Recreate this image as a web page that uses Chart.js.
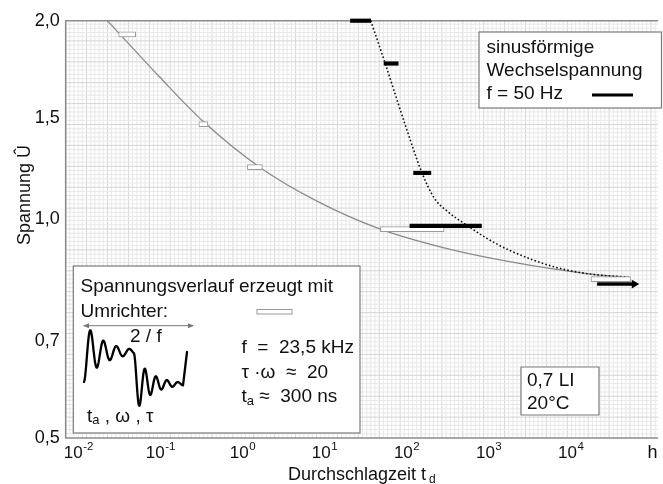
<!DOCTYPE html>
<html lang="de">
<head>
<meta charset="utf-8">
<title>Durchschlagzeit bei Umrichter- und Sinusspannung</title>
<script src="https://cdn.jsdelivr.net/npm/chart.js@4/dist/chart.umd.min.js"></script>
<style>
  html, body { margin: 0; padding: 0; background: #fff; }
  #wrap { position: relative; width: 663px; height: 484px; }
</style>
</head>
<body>
<div id="wrap"><canvas id="c" width="663" height="484"></canvas></div>
<script>
// ---- Messwerte ----------------------------------------------------------
// Umrichterspannung (23,5 kHz): Streubereich der Durchschlagzeit t_d in h
const UMR_U     = [1.93, 1.47, 1.257, 0.975, 0.852];
const UMR_T_VON = [0.031, 0.295, 1.15, 48, 17700];
const UMR_T_BIS = [0.050, 0.379, 1.75, 287, 53700];

// Sinusförmige Wechselspannung 50 Hz
const SIN_U     = [2.0, 1.78, 1.228, 0.983];
const SIN_T_VON = [20.7, 53.2, 122, 110];
const SIN_T_BIS = [36.6, 79.1, 198, 819];

// 50 Hz Langzeitprüfung ohne Durchschlag (Pfeil)
const SIN_PFEIL_U = 0.84;
const SIN_PFEIL_T = [21000, 59600];

// Lebensdauerkurven
const KURVE_UMR_T = [0.0226, 0.0318, 0.0968, 0.339, 1.654, 8.32, 48.0, 287, 1800, 16700, 50700];
const KURVE_UMR_U = [2.0, 1.932, 1.713, 1.48, 1.254, 1.086, 0.975, 0.929, 0.895, 0.865, 0.856];
const KURVE_SIN_T = [36.6, 55.6, 93.5, 154.5, 215.8, 309.7, 540, 943, 1800, 6120, 16700, 50800];
const KURVE_SIN_U = [2.0, 1.774, 1.482, 1.228, 1.106, 1.040, 0.985, 0.953, 0.923, 0.883, 0.865, 0.857];

// Achsenbeschriftung
const U_TICKS   = [0.5, 0.7, 1.0, 1.5, 2.0];
const T_DEKADEN = [-2, -1, 0, 1, 2, 3, 4];

// ---- Achsen -------------------------------------------------------------
const SCHRIFT = '"Liberation Sans", Arial, Helvetica, sans-serif';
const T_MIN = 0.00702, T_MAX = 116000;
// relative Lage der Spannungsteilstriche auf der (nichtlinear geteilten) Ordinate
const U_ACHSE_ANTEIL = [0, 0.2324, 0.5248, 0.7668, 1];

function stueckweise(xs, ys, v) {
  const n = xs.length - 1;
  if (v <= xs[0]) return ys[0] + (v - xs[0]) * (ys[1] - ys[0]) / (xs[1] - xs[0]);
  for (let i = 1; i <= n; i++) {
    if (v <= xs[i]) {
      const f = (v - xs[i - 1]) / (xs[i] - xs[i - 1]);
      return ys[i - 1] + f * (ys[i] - ys[i - 1]);
    }
  }
  return ys[n] + (v - xs[n]) * (ys[n] - ys[n - 1]) / (xs[n] - xs[n - 1]);
}

class SpannungsSkala extends Chart.LinearScale {
  buildTicks() { return U_TICKS.map(v => ({ value: v })); }
  getPixelForValue(v) { return this.getPixelForDecimal(stueckweise(U_TICKS, U_ACHSE_ANTEIL, v)); }
  getValueForPixel(p) { return stueckweise(U_ACHSE_ANTEIL, U_TICKS, this.getDecimalForPixel(p)); }
}
SpannungsSkala.id = 'spannung';
SpannungsSkala.defaults = {};
Chart.register(SpannungsSkala);

// ---- Zeichenhilfen ------------------------------------------------------
function schrift(px) { return px + 'px ' + SCHRIFT; }

function linie(ctx, x1, y1, x2, y2) {
  ctx.beginPath(); ctx.moveTo(x1, y1); ctx.lineTo(x2, y2); ctx.stroke();
}

// Text aus Teilen: [text, groesse, versatz]
function textTeile(ctx, teile, x, y) {
  ctx.textBaseline = 'middle';
  ctx.textAlign = 'left';
  let cx = x;
  for (const [t, g, dy] of teile) {
    ctx.font = schrift(g);
    ctx.fillText(t, cx, y + (dy || 0));
    cx += ctx.measureText(t).width;
  }
  return cx;
}

function kasten(ctx, l, t, r, b) {
  ctx.fillStyle = '#fff';
  ctx.fillRect(l, t, r - l, b - t);
  ctx.strokeStyle = '#7a7a7a';
  ctx.lineWidth = 1.2;
  ctx.strokeRect(l, t, r - l, b - t);
}

// Sprungantwort mit gedämpfter Schwingung (Skizze des Spannungsverlaufs)
function einschwingen(ctx, x0, x1, yVon, yNach, periode, abkl) {
  for (let x = x0; x <= x1 + 0.01; x += 0.5) {
    const t = x - x0;
    const s = 1 - Math.exp(-t / abkl) * Math.cos(2 * Math.PI * t / periode);
    ctx.lineTo(x, yVon + (yNach - yVon) * s);
  }
}

function pfeilspitze(ctx, x, y, richtung) {
  ctx.beginPath();
  ctx.moveTo(x, y);
  ctx.lineTo(x - richtung * 6, y - 2.5);
  ctx.lineTo(x - richtung * 6, y + 2.5);
  ctx.closePath();
  ctx.fill();
}

const zeichnung = {
  id: 'zeichnung',
  beforeDraw(chart) {
    const { ctx, chartArea: a } = chart;
    ctx.save();
    ctx.fillStyle = '#fff';
    ctx.fillRect(0, 0, chart.width, chart.height);
    // Millimeterpapier im Diagrammfeld
    const schritt = 4.18;
    ctx.lineWidth = 1;
    let i = 0;
    for (let x = a.left + schritt; x < a.right; x += schritt) {
      i++;
      ctx.strokeStyle = i % 5 === 0 ? '#d6d6d6' : '#e8e8e8';
      linie(ctx, x, a.top, x, a.bottom);
    }
    i = 0;
    for (let y = a.bottom - schritt; y > a.top; y -= schritt) {
      i++;
      ctx.strokeStyle = i % 5 === 0 ? '#d6d6d6' : '#e8e8e8';
      linie(ctx, a.left, y, a.right, y);
    }
    ctx.restore();
  },
  beforeDatasetsDraw(chart) {
    const { ctx, chartArea: a } = chart;
    ctx.save();
    ctx.strokeStyle = '#8c8c8c';
    ctx.lineWidth = 1.6;
    ctx.beginPath();
    ctx.moveTo(a.right, a.top);
    ctx.lineTo(a.left, a.top);
    ctx.lineTo(a.left, a.bottom);
    ctx.lineTo(a.right, a.bottom);
    ctx.stroke();
    ctx.restore();
  },
  afterDatasetsDraw(chart) {
    const { ctx } = chart;
    const xs = chart.scales.x;
    ctx.save();
    ctx.fillStyle = '#111';

    // Legende Sinusspannung
    kasten(ctx, 479, 32, 661.5, 108);
    ctx.fillStyle = '#111';
    textTeile(ctx, [['sinusförmige', 19]], 486.5, 48);
    textTeile(ctx, [['Wechselspannung', 19]], 486.5, 71);
    textTeile(ctx, [['f = 50 Hz', 19]], 486.5, 94);
    ctx.strokeStyle = '#000';
    ctx.lineWidth = 3;
    linie(ctx, 592, 95, 633, 95);

    // Legende Umrichter
    kasten(ctx, 73.3, 266, 360, 433);
    ctx.fillStyle = '#111';
    textTeile(ctx, [['Spannungsverlauf erzeugt mit', 19]], 80.5, 287);
    textTeile(ctx, [['Umrichter:', 19]], 80.5, 311.5);
    ctx.fillStyle = '#fff';
    ctx.fillRect(257, 309.5, 35, 4.5);
    ctx.strokeStyle = '#999';
    ctx.lineWidth = 1;
    ctx.strokeRect(257, 309.5, 35, 4.5);

    // Periodenpfeil 2/f
    ctx.strokeStyle = '#777';
    ctx.fillStyle = '#777';
    ctx.lineWidth = 1;
    linie(ctx, 84, 325.7, 193, 325.7);
    pfeilspitze(ctx, 83, 325.7, -1);
    pfeilspitze(ctx, 194, 325.7, 1);
    ctx.fillStyle = '#111';
    textTeile(ctx, [['2 / f', 19]], 130, 337);

    // Skizze des Spannungsverlaufs
    ctx.strokeStyle = '#000';
    ctx.lineWidth = 2.3;
    ctx.lineJoin = 'round';
    ctx.lineCap = 'round';
    ctx.beginPath();
    ctx.moveTo(84, 382);
    einschwingen(ctx, 84, 134, 382, 352, 13, 20);
    einschwingen(ctx, 134, 183, 353.4, 384, 11, 16);
    ctx.lineTo(187, 352);
    ctx.stroke();

    ctx.fillStyle = '#111';
    textTeile(ctx, [['t', 19], ['a', 13, 4], [' , ω , τ', 19]], 87, 416.5);
    textTeile(ctx, [['f  =  23,5 kHz', 19]], 241.5, 348);
    textTeile(ctx, [['τ ·ω  ≈  20', 19]], 241.5, 373);
    textTeile(ctx, [['t', 19], ['a', 13, 4], [' ≈  300 ns', 19]], 241.5, 397);

    // Prüfbedingungen
    kasten(ctx, 521, 367, 599, 415);
    ctx.fillStyle = '#111';
    textTeile(ctx, [['0,7 LI', 19]], 527, 381);
    textTeile(ctx, [['20°C', 19]], 527, 404);

    // Abszissenbeschriftung 10^n
    ctx.textBaseline = 'alphabetic';
    for (const k of T_DEKADEN) {
      const px = xs.getPixelForValue(Math.pow(10, k));
      ctx.font = schrift(17);
      const w1 = ctx.measureText('10').width;
      ctx.font = schrift(11.5);
      const hoch = String(k);
      const w2 = ctx.measureText(hoch).width;
      const x0 = px - (w1 + w2) / 2;
      ctx.font = schrift(17);
      ctx.fillText('10', x0, 458);
      ctx.font = schrift(11.5);
      ctx.fillText(hoch, x0 + w1 + 0.5, 450);
    }
    ctx.font = schrift(18);
    ctx.textAlign = 'center';
    ctx.fillText('h', 652.5, 458);

    // Achsentitel
    ctx.textAlign = 'left';
    ctx.font = schrift(18);
    const tx = 288;
    ctx.fillText('Durchschlagzeit t', tx, 480);
    const wt = ctx.measureText('Durchschlagzeit t').width;
    ctx.font = schrift(12);
    ctx.fillText('d', tx + wt + 3, 483);

    ctx.translate(25, 195);
    ctx.rotate(-Math.PI / 2);
    ctx.font = schrift(18);
    ctx.textAlign = 'center';
    ctx.textBaseline = 'middle';
    ctx.fillText('Spannung Û', 0, 0);
    ctx.restore();
  }
};

// ---- Datensätze ---------------------------------------------------------
const punkte = (ts, us) => ts.map((t, i) => ({ x: t, y: us[i] }));
const balken = (us, von, bis) => us.map((u, i) => ({ y: u, x: [von[i], bis[i]] }));

const datasets = [
  {
    type: 'line', label: 'Sinus 50 Hz (ohne Durchschlag)',
    data: SIN_PFEIL_T.map(t => ({ x: t, y: SIN_PFEIL_U })),
    borderColor: '#000', borderWidth: 3.5, borderCapStyle: 'butt',
    pointRadius: [0, 5], pointStyle: 'triangle', rotation: 90,
    pointBackgroundColor: '#000', pointBorderWidth: 0,
    clip: false, order: 0
  },
  {
    type: 'bar', label: 'Sinus 50 Hz', indexAxis: 'y',
    data: balken(SIN_U, SIN_T_VON, SIN_T_BIS),
    backgroundColor: '#000', borderWidth: 0, borderSkipped: false,
    barThickness: 3.5, grouped: false, clip: false, order: 1
  },
  {
    type: 'bar', label: 'Umrichter', indexAxis: 'y',
    data: balken(UMR_U, UMR_T_VON, UMR_T_BIS),
    backgroundColor: '#fff', borderColor: '#9a9a9a', borderWidth: 1, borderSkipped: false,
    barThickness: 5, grouped: false, clip: false, order: 2
  },
  {
    type: 'line', label: 'Kurve Sinus',
    data: punkte(KURVE_SIN_T, KURVE_SIN_U),
    borderColor: '#111', borderWidth: 1.6, borderDash: [1.6, 2.2],
    pointRadius: 0, cubicInterpolationMode: 'monotone', clip: false, order: 3
  },
  {
    type: 'line', label: 'Kurve Umrichter',
    data: punkte(KURVE_UMR_T, KURVE_UMR_U),
    borderColor: '#8a8a8a', borderWidth: 1.3,
    pointRadius: 0, cubicInterpolationMode: 'monotone', clip: false, order: 4
  }
];

new Chart(document.getElementById('c'), {
  type: 'line',
  data: { datasets },
  options: {
    responsive: false,
    animation: false,
    devicePixelRatio: 1,
    events: [],
    layout: { padding: { top: 20.7, right: 0, bottom: 0, left: 0 } },
    plugins: { legend: { display: false }, tooltip: { enabled: false } },
    scales: {
      x: {
        type: 'logarithmic', min: T_MIN, max: T_MAX, bounds: 'data',
        grid: { display: false, drawTicks: false }, border: { display: false },
        ticks: { display: false },
        afterBuildTicks: s => { s.ticks = T_DEKADEN.map(k => ({ value: Math.pow(10, k) })); },
        afterFit: s => { s.height = 46; }
      },
      y: {
        type: 'spannung', min: 0.5, max: 2.0,
        grid: { display: false, drawTicks: false }, border: { display: false },
        ticks: {
          color: '#111', padding: 6,
          font: { family: SCHRIFT, size: 18 },
          callback: v => v.toFixed(1).replace('.', ',')
        },
        afterFit: s => { s.width = 65.7; }
      }
    }
  },
  plugins: [zeichnung]
});
</script>
</body>
</html>
